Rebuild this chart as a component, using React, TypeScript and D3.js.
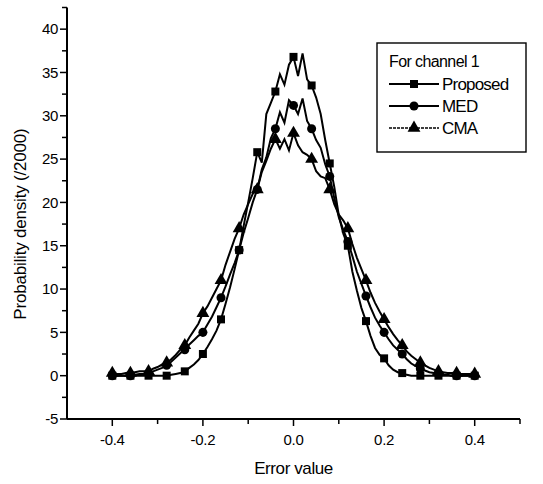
import React, { useEffect, useRef } from 'react';
import * as d3 from 'd3';

// error value grid, step 0.01 from -0.40 to 0.40
const errorValues = d3.range(-40, 41).map(i => i / 100);

const proposed = [
  0, 0, 0, 0, 0, 0, 0, 0, 0, 0,
  0, 0, 0, 0.1, 0.2, 0.3, 0.5, 0.9, 1.3, 1.8,
  2.5, 3.3, 4.2, 5.2, 6.5, 8.3, 10.2, 12.3, 14.5, 17.3,
  20, 22.8, 25.8, 24.6, 30.2, 31.5, 32.8, 34.8, 33.6, 35.9,
  36.8,
  34.6, 37.2, 34.2, 33.5, 32.1, 30.2, 27.2, 24.5, 21.8, 18.5,
  16.4, 15, 12, 9.8, 7.8, 6.3, 4.6, 3.2, 2.4, 2,
  1.2, 0.7, 0.4, 0.3, 0.1, 0, 0, 0, 0, 0,
  0, 0, 0, 0, 0, 0, 0, 0, 0, 0,
];

const med = [
  0, 0, 0, 0, 0, 0.1, 0.2, 0.2, 0.3, 0.5,
  0.7, 0.9, 1.2, 1.6, 2.1, 2.6, 3, 3.6, 4.1, 4.6,
  5, 5.9, 6.8, 7.9, 9, 10.3, 11.7, 13, 14.5, 16.5,
  18.2, 20, 21.5, 23.8, 25.2, 27.4, 28.5, 30.4, 29.2, 31.8,
  31.2,
  30.2, 32, 29.4, 28.5, 27.2, 26.3, 24.4, 23, 20.5, 18.3,
  16.8, 15.5, 13.8, 12, 10.6, 9.2, 7.9, 6.7, 5.8, 5,
  4.2, 3.5, 3, 2.5, 1.9, 1.4, 1.1, 0.8, 0.6, 0.4,
  0.3, 0.2, 0.1, 0.1, 0, 0, 0, 0, 0, 0,
];

const cma = [
  0.3, 0.2, 0.2, 0.3, 0.3, 0.4, 0.5, 0.5, 0.5, 0.8,
  1, 1.3, 1.5, 1.9, 2.4, 3, 3.5, 4.4, 5.2, 6,
  7.2, 8, 9, 10, 11, 12.8, 14.3, 15.8, 17, 18.6,
  19.8, 21, 21.5, 23.5, 24.8, 26.2, 27.3, 26.2, 27.3, 26,
  28,
  26.6, 25.8, 25.5, 25, 23.6, 23, 22.8, 21.5, 19.8, 18.6,
  17.9, 17, 15.2, 13.6, 12.3, 11, 9.6, 8.4, 7.4, 6.5,
  5.6, 4.8, 4.1, 3.5, 2.8, 2.3, 1.9, 1.5, 1.2, 0.9,
  0.7, 0.5, 0.4, 0.3, 0.3, 0.3, 0.2, 0.2, 0.2, 0.2,
];

const seriesNames = ['Proposed', 'MED', 'CMA'];
const seriesSymbols = [d3.symbolSquare, d3.symbolCircle, d3.symbolTriangle];
const symbolSizes = [64, 64, 72];
const xTickLabels = [-0.4, -0.2, 0.0, 0.2, 0.4];
const yTickLabels = [-5, 0, 5, 10, 15, 20, 25, 30, 35, 40];

function App() {
  const svgRef = useRef<SVGSVGElement>(null);

  useEffect(() => {
    const width = 543;
    const height = 484;
    const font = 'Arial, "Liberation Sans", sans-serif';

    const svg = d3.select(svgRef.current);
    svg.selectAll('*').remove();
    svg.attr('width', width).attr('height', height);

    const x = d3.scaleLinear().domain([-0.5, 0.5]).range([67, 520]);
    const y = d3.scaleLinear().domain([-5, 42.5]).range([419, 7.5]);

    const axisColor = '#000';

    // x axis: ticks every 0.1, labels every 0.2
    const xAxis = svg.append('g').attr('transform', `translate(0,${y(-5)})`);
    xAxis.append('line')
      .attr('x1', x(-0.5)).attr('x2', x(0.5))
      .attr('stroke', axisColor).attr('stroke-width', 2);
    const xTicks = d3.range(-4, 6).map(i => i / 10);
    xAxis.selectAll('.xt')
      .data(xTicks)
      .enter()
      .append('line')
      .attr('x1', d => x(d)).attr('x2', d => x(d))
      .attr('y1', 0)
      .attr('y2', d => xTickLabels.some(t => Math.abs(t - d) < 1e-9) ? 7 : 5)
      .attr('stroke', axisColor).attr('stroke-width', 1.5);
    xAxis.selectAll('.xl')
      .data(xTickLabels)
      .enter()
      .append('text')
      .attr('x', d => x(d))
      .attr('y', 26)
      .attr('text-anchor', 'middle')
      .style('font-family', font)
      .style('font-size', '15px')
      .style('letter-spacing', '-0.3px')
      .text(d => d.toFixed(1));

    // y axis: major every 5, minor every 2.5
    const yAxis = svg.append('g').attr('transform', `translate(${x(-0.5)},0)`);
    yAxis.append('line')
      .attr('y1', y(-5)).attr('y2', y(42.5))
      .attr('stroke', axisColor).attr('stroke-width', 2);
    const yTicks = d3.range(-2, 18).map(i => i * 2.5);
    yAxis.selectAll('.yt')
      .data(yTicks)
      .enter()
      .append('line')
      .attr('y1', d => y(d)).attr('y2', d => y(d))
      .attr('x1', 0)
      .attr('x2', d => d % 5 === 0 ? -7 : -5)
      .attr('stroke', axisColor).attr('stroke-width', 1.5);
    yAxis.selectAll('.yl')
      .data(yTickLabels)
      .enter()
      .append('text')
      .attr('x', -9)
      .attr('y', d => y(d))
      .attr('dy', '0.35em')
      .attr('text-anchor', 'end')
      .style('font-family', font)
      .style('font-size', '15px')
      .style('letter-spacing', '-0.3px')
      .text(d => d);

    // axis titles
    svg.append('text')
      .attr('x', x(0))
      .attr('y', 474)
      .attr('text-anchor', 'middle')
      .style('font-family', font)
      .style('font-size', '17px')
      .style('letter-spacing', '-0.4px')
      .text('Error value');
    svg.append('text')
      .attr('transform', `translate(26,${y(17.5)}) rotate(-90)`)
      .attr('text-anchor', 'middle')
      .style('font-family', font)
      .style('font-size', '17px')
      .style('letter-spacing', '-0.2px')
      .text('Probability density (/2000)');

    // curves
    const allSeries = [proposed, med, cma];
    const line = d3.line<number>()
      .x((d, i) => x(errorValues[i]))
      .y(d => y(d));

    allSeries.forEach((values, k) => {
      svg.append('path')
        .datum(values)
        .attr('d', line)
        .attr('fill', 'none')
        .attr('stroke', '#000')
        .attr('stroke-width', 2)
        .attr('stroke-linejoin', 'miter');

      const sym = d3.symbol().type(seriesSymbols[k]).size(symbolSizes[k]);
      svg.selectAll(`.m${k}`)
        .data(values.filter((d, i) => i % 4 === 0))
        .enter()
        .append('path')
        .attr('d', sym)
        .attr('transform', (d, i) => `translate(${x(errorValues[i * 4])},${y(d)})`)
        .attr('fill', '#000');
    });

    // legend
    const legend = svg.append('g');
    legend.append('rect')
      .attr('x', 377).attr('y', 43)
      .attr('width', 149).attr('height', 109)
      .attr('fill', '#fff')
      .attr('stroke', '#000')
      .attr('stroke-width', 1.4);
    legend.append('text')
      .attr('x', 389).attr('y', 67)
      .style('font-family', font)
      .style('font-size', '16px')
      .style('letter-spacing', '-0.6px')
      .text('For channel 1');

    seriesNames.forEach((name, k) => {
      const ly = 84 + k * 22;
      legend.append('line')
        .attr('x1', 389).attr('x2', 439)
        .attr('y1', ly).attr('y2', ly)
        .attr('stroke', '#000')
        .attr('stroke-width', k === 2 ? 1.4 : 2)
        .attr('stroke-dasharray', k === 2 ? '3,1' : null);
      legend.append('path')
        .attr('d', d3.symbol().type(seriesSymbols[k]).size(symbolSizes[k])())
        .attr('transform', `translate(414,${ly})`)
        .attr('fill', '#000');
      legend.append('text')
        .attr('x', 442).attr('y', ly)
        .attr('dy', '0.35em')
        .style('font-family', font)
        .style('font-size', '17px')
        .style('letter-spacing', '-0.8px')
        .text(name);
    });
  }, []);

  return <svg ref={svgRef} style={{ position: 'absolute', left: 0, top: 0 }}></svg>;
}

export default App;
